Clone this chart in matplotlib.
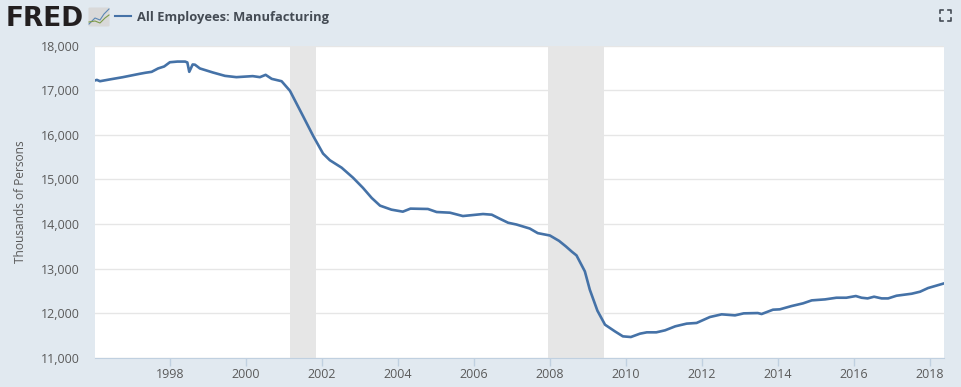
import matplotlib
matplotlib.use('Agg')
from matplotlib import pyplot as plt
from matplotlib.patches import FancyBboxPatch
from matplotlib.lines import Line2D

# decimal year, thousands of persons
years = [1996.0, 1996.08, 1996.16, 1996.42, 1996.76, 1997.2, 1997.36, 1997.52, 1997.69, 1997.85,
         1998.0, 1998.2, 1998.4, 1998.46, 1998.51, 1998.6, 1998.66, 1998.79, 1999.13, 1999.45, 1999.75,
         2000.18, 2000.37, 2000.52, 2000.68, 2000.94, 2001.16, 2001.5, 2001.77, 2002.03, 2002.21, 2002.52,
         2002.82, 2003.08, 2003.31, 2003.53, 2003.83, 2004.13, 2004.33, 2004.79, 2005.02, 2005.37, 2005.71,
         2006.24, 2006.47, 2006.68, 2006.9, 2007.12, 2007.47, 2007.68, 2008.0, 2008.24, 2008.42, 2008.58,
         2008.7, 2008.92, 2009.05, 2009.25, 2009.45, 2009.71, 2009.92, 2010.13, 2010.37, 2010.55, 2010.8,
         2011.03, 2011.3, 2011.6, 2011.86, 2012.21, 2012.52, 2012.87, 2013.1, 2013.47, 2013.57, 2013.87,
         2014.05, 2014.36, 2014.66, 2014.89, 2015.24, 2015.54, 2015.8, 2016.05, 2016.2, 2016.36, 2016.53,
         2016.73, 2016.9, 2017.12, 2017.52, 2017.74, 2017.95, 2018.37]
employees = [17210, 17230, 17200, 17240, 17290, 17365, 17390, 17410, 17486, 17530,
             17625, 17640, 17640, 17620, 17410, 17575, 17570, 17486, 17396, 17320, 17291,
             17314, 17291, 17343, 17253, 17200, 16985, 16425, 15976, 15580, 15430, 15263,
             15038, 14812, 14586, 14413, 14323, 14278, 14346, 14338, 14270, 14255, 14180,
             14225, 14210, 14120, 14030, 13990, 13900, 13797, 13744, 13624, 13500, 13380,
             13298, 12940, 12530, 12060, 11746, 11597, 11485, 11470, 11545, 11575, 11575,
             11620, 11710, 11770, 11785, 11918, 11978, 11955, 12000, 12007, 11985, 12082,
             12090, 12164, 12224, 12291, 12313, 12350, 12350, 12388, 12350, 12335, 12373,
             12335, 12335, 12395, 12440, 12485, 12567, 12671]
year_ticks = [1998, 2000, 2002, 2004, 2006, 2008, 2010, 2012, 2014, 2016, 2018]
value_ticks = [11000, 12000, 13000, 14000, 15000, 16000, 17000, 18000]
recessions = [(2001.17, 2001.84), (2007.95, 2009.42)]
series_name = 'All Employees: Manufacturing'
y_label = 'Thousands of Persons'

W, H = 961, 387
bg = '#e1e9f0'
line_color = '#4572a7'
text_color = '#5a5a5a'

plt.rcParams['font.family'] = ['Open Sans', 'DejaVu Sans']
fig = plt.figure(figsize=(W / 100, H / 100), dpi=100, facecolor=bg)
ax = fig.add_axes([95 / W, 1 - 358 / H, (944 - 95) / W, (358 - 45.5) / H])
ax.set_facecolor('white')

for start, end in recessions:
    ax.axvspan(start, end, color='#e6e6e6', lw=0, zorder=1)
ax.plot(years, employees, color=line_color, lw=1.9, zorder=3, solid_joinstyle='round')

ax.set_xlim(1996.03, 2018.37)
ax.set_ylim(11000, 18000)
ax.set_xticks(year_ticks)
ax.set_yticks(value_ticks)
ax.set_yticklabels([f'{v:,}' for v in value_ticks])
ax.grid(axis='y', color='#e6e6e6', lw=1, zorder=2)
ax.set_axisbelow(False)
for name in ['top', 'left', 'right']:
    ax.spines[name].set_visible(False)
ax.spines['bottom'].set_color('#c0d0e0')
ax.tick_params(axis='x', length=5.8, width=1, color='#c0d0e0', labelsize=9, labelcolor=text_color, pad=1.5)
ax.tick_params(axis='y', length=0, labelsize=9, labelcolor=text_color, pad=10.8)
fig.text(21 / W, 1 - 202 / H, y_label, rotation=90, ha='center', va='center', fontsize=8.6, color=text_color)

# header
fig.text(6 / W, 1 - 26 / H, 'FRED', fontsize=19, fontweight='bold', color='#231f20', family=['DejaVu Sans'],
         va='baseline', ha='left')
fig.add_artist(FancyBboxPatch((88.5 / W, 1 - 26.5 / H), 21 / W, 19 / H, boxstyle='round,pad=0,rounding_size=0.002',
                              transform=fig.transFigure, fc='#d9d9d9', ec='none'))
fig.add_artist(Line2D([89 / W, 95 / W, 100 / W, 104 / W, 109 / W], [1 - 24 / H, 1 - 18 / H, 1 - 20 / H, 1 - 14 / H, 1 - 9 / H],
                      color='#5b87b5', lw=0.8))
fig.add_artist(Line2D([89 / W, 95 / W, 100 / W, 105 / W, 109 / W], [1 - 22 / H, 1 - 21 / H, 1 - 23 / H, 1 - 18 / H, 1 - 15 / H],
                      color='#7d9b4a', lw=0.8))
fig.add_artist(Line2D([115 / W, 131 / W], [1 - 16 / H, 1 - 16 / H], color=line_color, lw=1.5))
fig.text(137 / W, 1 - 17 / H, series_name, fontsize=9.3, fontweight='bold', color='#444b54', va='center', ha='left')

# fullscreen icon
x0, x1, y0, y1, s = 939.5 / W, 950.5 / W, 1 - 9.5 / H, 1 - 20.5 / H, 3
for xa, ya, dx, dy in [(x0, y0, 1, -1), (x1, y0, -1, -1), (x0, y1, 1, 1), (x1, y1, -1, 1)]:
    fig.add_artist(Line2D([xa + dx * s / W, xa, xa], [ya, ya, ya + dy * s / H], color='#444b54', lw=1.2))

fig.savefig('out.png', dpi=100, facecolor=bg)
